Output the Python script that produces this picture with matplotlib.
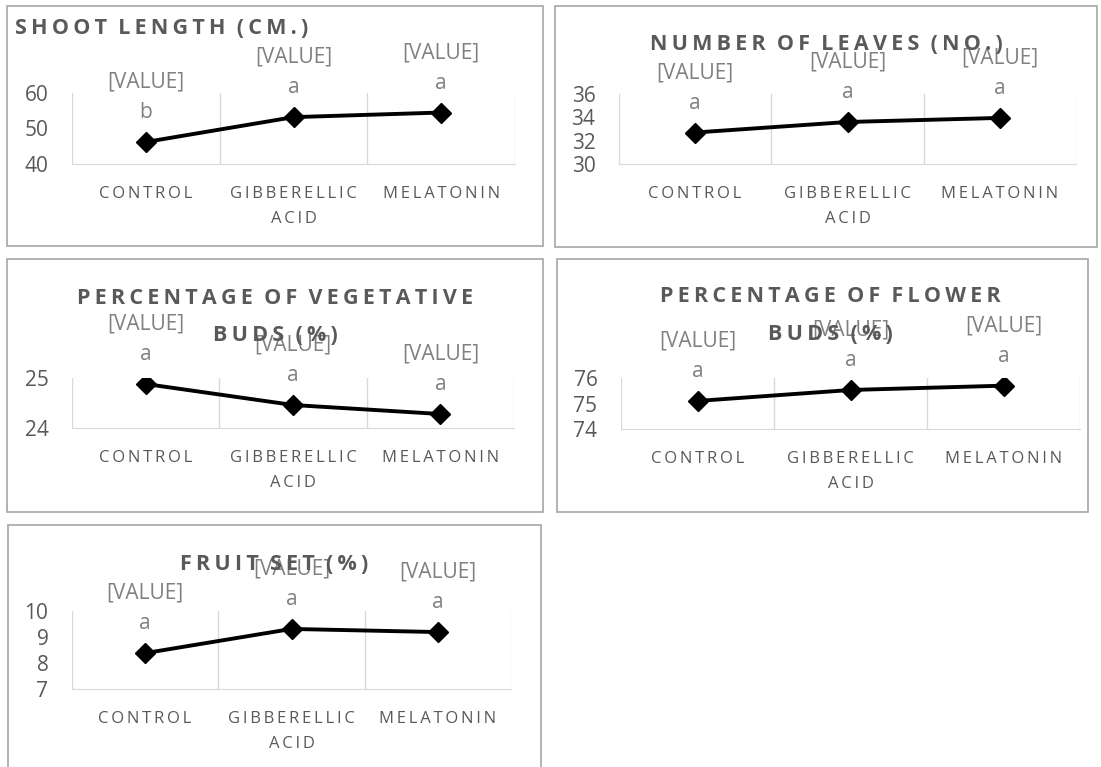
import matplotlib
matplotlib.use("Agg")
import matplotlib.pyplot as plt
from matplotlib.patches import Rectangle

categories = ["CONTROL", "GIBBERELLIC ACID", "MELATONIN"]
shoot_length = [46.2, 53.2, 54.5]
leaves = [32.7, 33.6, 33.95]
veg_buds = [24.88, 24.46, 24.28]
flower_buds = [75.1, 75.53, 75.7]
fruit_set = [8.38, 9.31, 9.19]
shoot_letters = ["b", "a", "a"]
other_letters = ["a", "a", "a"]

W, H = 1101, 767
fig = plt.figure(figsize=(W / 100, H / 100), dpi=100)
plt.rcParams["font.family"] = ["Open Sans", "DejaVu Sans"]

DARK = "#595959"
LIGHT = "#808080"
GRID = "#d9d9d9"
THIN = "\u2009"


def spaced(s, gap=" " + THIN):
    # fake the wide letter spacing of the original
    return gap.join(THIN.join(w) for w in s.split(" "))


def title_sp(s):
    return spaced(s, gap="  ")


def frac_box(x0, y0, x1, y1):
    return [x0 / W, 1 - y1 / H, (x1 - x0) / W, (y1 - y0) / H]


def panel(box, plot, values, letters, ylim, yticks, title, title_xy, title_ha="center"):
    b = frac_box(*box)
    fig.patches.append(Rectangle((b[0], b[1]), b[2], b[3], transform=fig.transFigure,
                                 fill=False, edgecolor="#a6a6a6", lw=1.2))
    ax = fig.add_axes(frac_box(*plot))
    x = [1, 2, 3]
    ax.set_xlim(0.5, 3.5)
    ax.set_ylim(*ylim)
    for xv in [0.5, 1.5, 2.5, 3.5]:
        ax.axvline(xv, color=GRID, lw=1, zorder=0)
    for s in ["top", "left", "right"]:
        ax.spines[s].set_visible(False)
    ax.spines["bottom"].set_color(GRID)
    ax.plot(x, values, color="black", lw=2.8, marker="D", markersize=10, zorder=3)
    ax.set_yticks(yticks)
    ax.set_yticklabels([str(t) for t in yticks], fontsize=15, color=DARK)
    ax.set_xticks(x)
    labs = [spaced(c) if c != "GIBBERELLIC ACID" else spaced("GIBBERELLIC") + "\n" + spaced("ACID")
            for c in categories]
    ax.set_xticklabels(labs, fontsize=12, color=DARK, linespacing=1.7)
    ax.tick_params(axis="both", length=0)
    ax.tick_params(axis="y", pad=17)
    ax.tick_params(axis="x", pad=16)
    for xi, v, l in zip(x, values, letters):
        ax.annotate("[VALUE]\n" + l, (xi, v), xytext=(0, 13.5), textcoords="offset points",
                    ha="center", va="bottom", fontsize=15, color=LIGHT, linespacing=1.6,
                    annotation_clip=False, zorder=5)
    tx, ty = title_xy
    fig.text(tx / W, 1 - ty / H, title, ha=title_ha, va="center", fontsize=15.5,
             fontweight="bold", color=DARK, linespacing=2.0, zorder=4)
    return ax


panel((7, 6, 543, 246), (72, 93, 515, 164), shoot_length, shoot_letters, (40, 60),
      [40, 50, 60], title_sp("SHOOT LENGTH (CM.)"), (15, 29), title_ha="left")
panel((555, 6, 1097, 247), (619, 94, 1076, 164), leaves, other_letters, (30, 36),
      [30, 32, 34, 36], title_sp("NUMBER OF LEAVES (NO.)"), (826, 45))
panel((7, 259, 543, 512), (72, 378, 514, 428), veg_buds, other_letters, (24, 25),
      [24, 25], title_sp("PERCENTAGE OF VEGETATIVE") + "\n" + title_sp("BUDS (%)"), (275, 317))
panel((557, 259, 1088, 512), (621, 378, 1080, 429), flower_buds, other_letters, (74, 76),
      [74, 75, 76], title_sp("PERCENTAGE OF FLOWER") + "\n" + title_sp("BUDS (%)"), (830, 315.5))
panel((8, 525, 541, 790), (72, 611, 511, 689), fruit_set, other_letters, (7, 10),
      [7, 8, 9, 10], title_sp("FRUIT SET (%)"), (274, 564))

# caption cut off at the top edge of the original
fig.text(1 / W, 1 + 2 / H, "1/2019season", ha="left", va="center", fontsize=8,
         family="Liberation Serif", fontweight="bold", color="#333333")

fig.savefig("out.png", dpi=100)
